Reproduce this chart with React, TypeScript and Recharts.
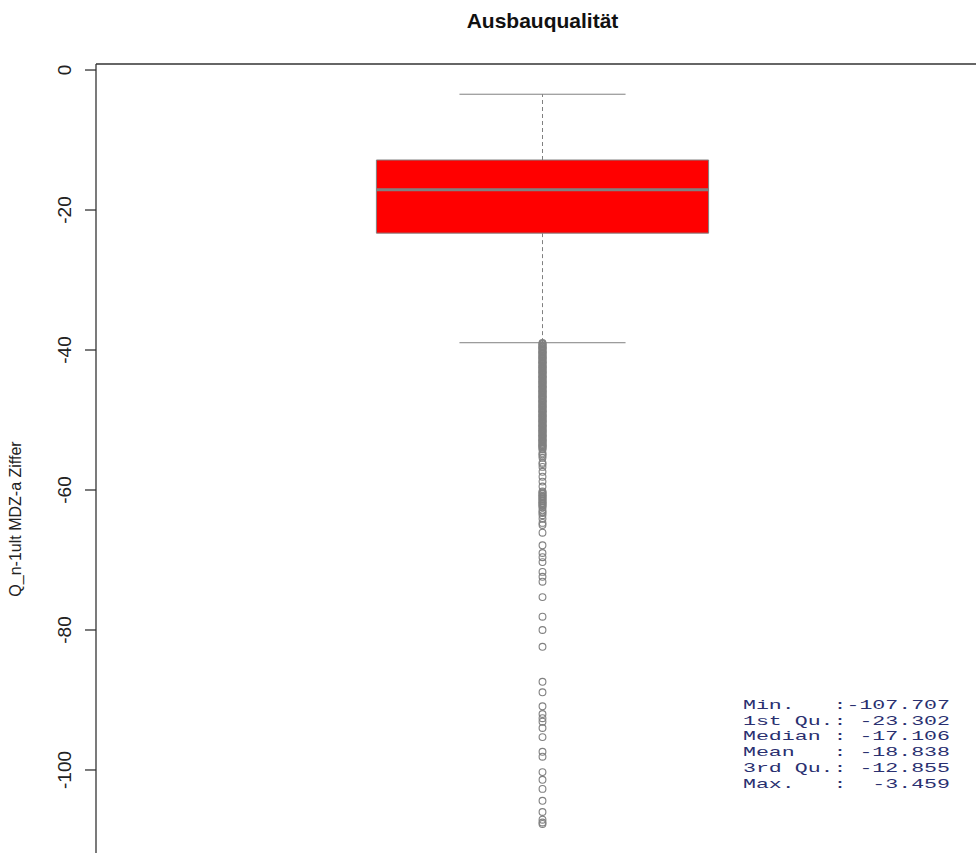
import React from 'react';
import { ComposedChart, XAxis, YAxis, Scatter, ReferenceArea, ReferenceLine } from 'recharts';

const summaryLabels = ['Min.', '1st Qu.', 'Median', 'Mean', '3rd Qu.', 'Max.'];
const summaryValues = [-107.707, -23.302, -17.106, -18.838, -12.855, -3.459];
const lowerWhisker = -38.96;
const yTicks = [0, -20, -40, -60, -80, -100];

// points below the lower whisker (the top stretch is a solid run of overlapping points)
const outliers = [
  -39.0, -39.1, -39.2, -39.4, -39.5, -39.6, -39.7, -39.8, -39.9, -40.1, -40.2, -40.3,
  -40.4, -40.5, -40.6, -40.8, -40.9, -41.0, -41.1, -41.2, -41.3, -41.5, -41.6, -41.7,
  -41.8, -41.9, -42.0, -42.2, -42.3, -42.4, -42.5, -42.6, -42.7, -42.9, -43.0, -43.1,
  -43.2, -43.3, -43.4, -43.6, -43.7, -43.8, -43.9, -44.0, -44.1, -44.3, -44.4, -44.5,
  -44.6, -44.7, -44.8, -45.0, -45.1, -45.2, -45.3, -45.4, -45.5, -45.7, -45.8, -45.9,
  -46.0, -46.1, -46.2, -46.4, -46.5, -46.6, -46.7, -46.8, -46.9, -47.1, -47.2, -47.3,
  -47.4, -47.5, -47.6, -47.8, -47.9, -48.0, -48.1, -48.2, -48.3, -48.5, -48.6, -48.7,
  -48.8, -48.9, -49.0, -49.2, -49.3, -49.4, -49.5, -49.6, -49.7, -49.9, -50.0, -50.1,
  -50.2, -50.3, -50.4, -50.6, -50.7, -50.8, -50.9, -51.0, -51.1, -51.3, -51.4, -51.5,
  -51.6, -51.7, -51.8, -52.0, -52.1, -52.2, -52.3, -52.4, -52.5, -52.7, -52.8, -52.9,
  -53.0, -53.1, -53.2, -53.4, -53.5, -53.6, -53.7, -53.8, -53.9, -54.1, -54.2,
  -54.7, -54.9, -55.1, -55.4, -56.1, -56.3, -56.7, -57.4, -58.1, -58.8, -59.5,
  -60.2, -60.3, -60.5, -60.6, -60.8, -60.9, -61.0, -61.2, -61.3, -61.5, -61.6, -61.8,
  -61.9, -62.0, -62.2, -62.3, -62.5, -62.9, -63.1, -63.3, -63.6, -64.1, -64.7, -65.0,
  -66.1, -67.9, -69.0, -69.6, -70.3, -71.7, -72.4, -73.1,
  -75.3, -78.1, -80.0, -82.4, -87.4, -88.9, -90.9, -92.0, -92.6, -93.1, -94.0,
  -95.3, -97.4, -98.1, -100.3, -101.4, -102.7, -104.4, -106.0, -107.1, -107.5, -107.707,
];

const [, q1, median, , q3, maxV] = summaryValues;
const outlierPoints = outliers.map((v) => ({ x: 1, y: v }));

const Y_DOMAIN: [number, number] = [-111.86, 0.86];
const GREY = '#808080';
const AXIS = '#333333';
const BOX_HALF = 0.186;
const CAP_HALF = 0.093;
const SANS = '"Liberation Sans", Arial, sans-serif';

// R summary() style rows: "Min.   :-107.707"
const summaryRows = summaryLabels.map(
  (l, i) => `${l.padEnd(7)}:${summaryValues[i].toFixed(3).padStart(8)}`
);

function RotatedTick(props: any) {
  const { x, y, payload } = props;
  const cx = x - 18;
  return (
    <text
      x={cx}
      y={y}
      transform={`rotate(-90 ${cx} ${y})`}
      textAnchor="middle"
      dominantBaseline="central"
      fontFamily={SANS}
      fontSize={19}
      fill="#222"
    >
      {payload.value}
    </text>
  );
}

export default function App() {
  return (
    <div
      style={{
        position: 'absolute',
        left: 0,
        top: 0,
        width: 976,
        height: 853,
        overflow: 'hidden',
        background: '#fff',
      }}
    >
      <ComposedChart
        width={993}
        height={853}
        margin={{ top: 64, right: 4, bottom: 0, left: 0 }}
      >
        <XAxis
          xAxisId={0}
          dataKey="x"
          type="number"
          orientation="top"
          domain={[0.5, 1.5]}
          height={0}
          tick={false}
          tickLine={false}
          axisLine={false}
        />
        <YAxis
          yAxisId={0}
          type="number"
          domain={Y_DOMAIN}
          allowDataOverflow
          ticks={yTicks}
          width={96}
          tickSize={11}
          tickMargin={2}
          tick={<RotatedTick />}
          tickLine={{ stroke: AXIS, strokeWidth: 1.3 }}
          axisLine={{ stroke: AXIS, strokeWidth: 1.3 }}
        />

        {/* frame line along the top of the plot region */}
        <ReferenceLine y={Y_DOMAIN[1]} stroke={AXIS} strokeWidth={1.3} />

        {/* whiskers */}
        <ReferenceLine
          segment={[{ x: 1, y: q3 }, { x: 1, y: maxV }]}
          stroke={GREY}
          strokeDasharray="4 3"
        />
        <ReferenceLine
          segment={[{ x: 1, y: q1 }, { x: 1, y: lowerWhisker }]}
          stroke={GREY}
          strokeDasharray="4 3"
        />
        <ReferenceLine
          segment={[{ x: 1 - CAP_HALF, y: maxV }, { x: 1 + CAP_HALF, y: maxV }]}
          stroke={GREY}
        />
        <ReferenceLine
          segment={[{ x: 1 - CAP_HALF, y: lowerWhisker }, { x: 1 + CAP_HALF, y: lowerWhisker }]}
          stroke={GREY}
        />

        {/* box and median */}
        <ReferenceArea
          x1={1 - BOX_HALF}
          x2={1 + BOX_HALF}
          y1={q1}
          y2={q3}
          fill="#FF0000"
          fillOpacity={1}
          stroke={GREY}
          strokeWidth={1}
        />
        <ReferenceLine
          segment={[{ x: 1 - BOX_HALF, y: median }, { x: 1 + BOX_HALF, y: median }]}
          stroke={GREY}
          strokeWidth={3}
        />

        <Scatter
          data={outlierPoints}
          dataKey="y"
          isAnimationActive={false}
          shape={(p: any) => (
            <circle cx={p.cx} cy={p.cy} r={3.4} fill="none" stroke={GREY} strokeWidth={1.1} />
          )}
        />

        <text
          x={542.5}
          y={28}
          textAnchor="middle"
          fontFamily={SANS}
          fontWeight="bold"
          fontSize={21}
          fill="#111"
        >
          Ausbauqualität
        </text>
        <text
          x={15}
          y={519}
          transform="rotate(-90 15 519)"
          textAnchor="middle"
          dominantBaseline="central"
          fontFamily={SANS}
          fontSize={16}
          fill="#222"
        >
          Q_n-1ult MDZ-a Ziffer
        </text>
        {summaryRows.map((row, i) => (
          <text
            key={row}
            x={743}
            y={709 + i * 15.7}
            textLength={207}
            lengthAdjust="spacingAndGlyphs"
            fontFamily='"Liberation Mono", "Courier New", monospace'
            fontSize={13.5}
            fill="#2a3070"
            style={{ whiteSpace: 'pre' }}
          >
            {row}
          </text>
        ))}
      </ComposedChart>
    </div>
  );
}
